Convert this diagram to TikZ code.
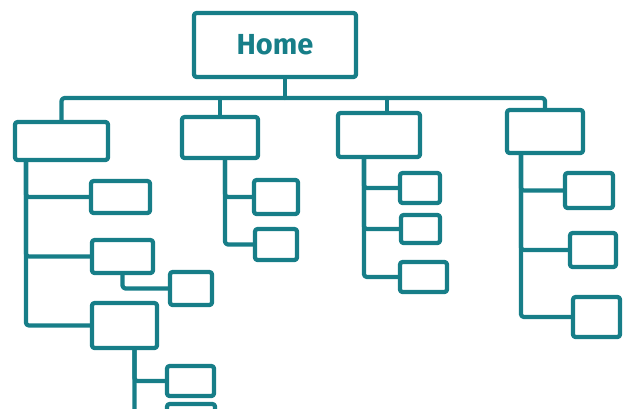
\documentclass[tikz,border=0pt]{standalone}
\usepackage{fontspec}
\setmainfont{Fira Sans}
\definecolor{teal1}{HTML}{177E88}

\begin{document}
\begin{tikzpicture}[
    x=1pt, y=-1pt,
    line width=4.2pt,
    draw=teal1,
    line join=round,
    line cap=round,
    box/.style={
        draw=teal1,
        rounded corners=2.5pt,
        inner sep=0pt
    },
    link/.style={
        draw=teal1,
        rounded corners=3pt
    }
]
\useasboundingbox (0,0) rectangle (634,408);

% home page
\node[box, minimum width=162pt, minimum height=64pt, text=teal1,
      font=\fontsize{29}{32}\selectfont\bfseries] (home) at (275,45) {Home};

% first level
\node[box, minimum width=93pt, minimum height=38pt] (secA) at (61.5,141) {};
\node[box, minimum width=76pt, minimum height=41pt] (secB) at (220,137.5) {};
\node[box, minimum width=82pt, minimum height=44pt] (secC) at (379,135) {};
\node[box, minimum width=76pt, minimum height=43pt] (secD) at (545,131.5) {};

% pages below secA
\node[box, minimum width=59pt, minimum height=32pt] (pageA1) at (120.5,197) {};
\node[box, minimum width=61pt, minimum height=33pt] (pageA2) at (122.5,256.5) {};
\node[box, minimum width=42pt, minimum height=33pt] (pageA2a) at (191,288.5) {};
\node[box, minimum width=65pt, minimum height=45pt] (pageA3) at (124.5,325.5) {};
\node[box, minimum width=47pt, minimum height=30pt] (pageA3a) at (190.5,381) {};
\node[box, minimum width=48pt, minimum height=20pt] (pageA3b) at (191,414) {};

% pages below secB
\node[box, minimum width=44pt, minimum height=34pt] (pageB1) at (276,197) {};
\node[box, minimum width=42pt, minimum height=31pt] (pageB2) at (276,244.5) {};

% pages below secC
\node[box, minimum width=40pt, minimum height=30pt] (pageC1) at (420,188) {};
\node[box, minimum width=39pt, minimum height=28pt] (pageC2) at (420.5,229) {};
\node[box, minimum width=47pt, minimum height=30pt] (pageC3) at (423.5,277) {};

% pages below secD
\node[box, minimum width=48pt, minimum height=35pt] (pageD1) at (589,190.5) {};
\node[box, minimum width=46pt, minimum height=34pt] (pageD2) at (593,250) {};
\node[box, minimum width=47pt, minimum height=40pt] (pageD3) at (596.5,317) {};

% top bar
\coordinate (hub) at (285,98);
\draw[link] ([xshift=10pt]home.south) -- (hub);
\draw[link] (secA.north) |- (hub) -| (secD.north);
\draw[link] (secB.north) -- (secB.north |- hub);
\draw[link] ([xshift=8pt]secC.north) -- ([xshift=8pt]secC.north |- hub);

% branches
\foreach \p in {pageA1, pageA2, pageA3}
    \draw[link] (\p.west) -| ([xshift=13pt]secA.south west);
\draw[link] (pageA2a.west) -| (pageA2.south);
\foreach \p in {pageA3a, pageA3b}
    \draw[link] (\p.west) -| ([xshift=10pt]pageA3.south);
\foreach \p in {pageB1, pageB2}
    \draw[link] (\p.west) -| ([xshift=5pt]secB.south);
\foreach \p in {pageC1, pageC2, pageC3}
    \draw[link] (\p.west) -| ([xshift=28pt]secC.south west);
\foreach \p in {pageD1, pageD2, pageD3}
    \draw[link] (\p.west) -| ([xshift=16pt]secD.south west);

\end{tikzpicture}
\end{document}
